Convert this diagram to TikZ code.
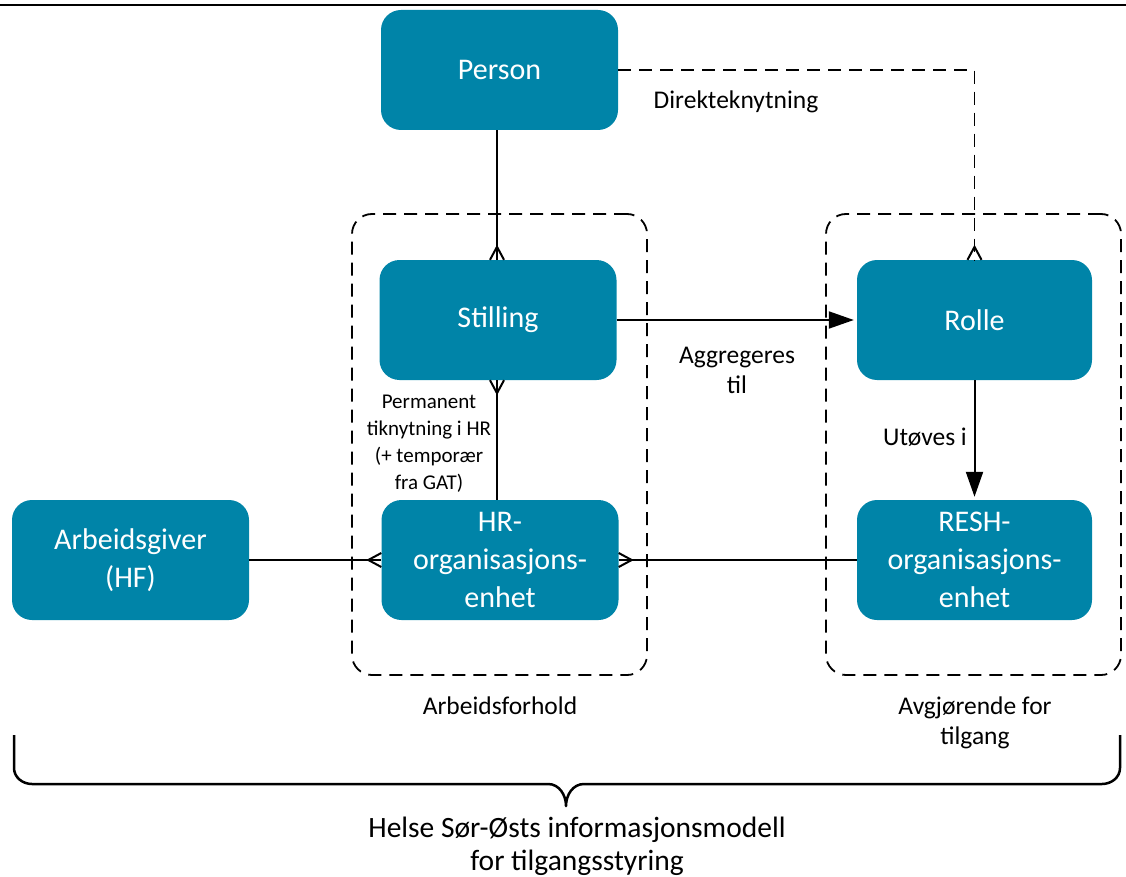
\documentclass[tikz,border=0pt]{standalone}
\usepackage{fontspec}
\setmainfont{Carlito}
\usetikzlibrary{arrows.meta}
\definecolor{teal1}{RGB}{0,132,168}
\begin{document}
\begin{tikzpicture}[x=1pt,y=-1pt,
  box/.style={fill=teal1,rounded corners=20pt,minimum width=237pt,minimum height=120pt,inner sep=0pt,text=white,align=center,font=\fontsize{30}{38}\selectfont},
  grp/.style={draw,dash pattern=on 13pt off 8pt,line width=1.8pt,rounded corners=20pt,minimum width=295pt,minimum height=461pt,inner sep=0pt},
  conn/.style={line width=2pt},
  dconn/.style={line width=1.8pt,dash pattern=on 13pt off 8pt},
  lbl/.style={font=\fontsize{25.5}{30}\selectfont,align=center,inner sep=0pt},
  slbl/.style={font=\fontsize{21}{27}\selectfont,align=center,inner sep=0pt},
  tri/.style={-{Triangle[length=25pt,width=17pt]}}
]
\useasboundingbox (0,0) rectangle (1126,877);
% header rule
\draw[line width=2pt] (0,5) -- (1126,5);

% groups
\node[grp] (grpA) at (499.5,444.5) {};
\node[grp] (grpB) at (973.5,444.5) {};

% boxes
\node[box] (person) at (499.5,70) {Person};
\node[box] (stilling) at (498,320) {Stilling};
\node[box] (hr) at (500,560) {HR-\\organisasjons-\\enhet};
\node[box] (arb) at (130.5,560) {Arbeidsgiver\\(HF)};
\node[box,minimum width=235pt] (rolle) at (974.5,320) {Rolle};
\node[box,minimum width=235pt] (resh) at (974.5,560) {RESH-\\organisasjons-\\enhet};

% Person - Stilling (crow's foot at Stilling)
\draw[conn] (person.south -| 497,0) coordinate (p1) -- (stilling.north -| 497,0) coordinate (s1);
\draw[conn] ([xshift=-7pt]s1) -- ([yshift=13pt]s1) -- ([xshift=7pt]s1);

% Stilling - HR (crow's foot at Stilling)
\draw[conn] (stilling.south -| 497,0) coordinate (s2) -- (hr.north -| 497,0) coordinate (h1);
\draw[conn] ([xshift=-7pt]s2) -- ([yshift=-13pt]s2) -- ([xshift=7pt]s2);
\node[slbl] (perm) at (429,444) {Permanent\\tiknytning i HR\\(+ temporær\\fra GAT)};

% Arbeidsgiver - HR (crow's foot at HR)
\draw[conn] (arb.east) -- (hr.west);
\draw[conn] ([yshift=-7pt]hr.west) -- ([xshift=-13pt]hr.west) -- ([yshift=7pt]hr.west);

% RESH - HR (crow's foot at HR)
\draw[conn] (resh.west) -- (hr.east);
\draw[conn] ([yshift=-7pt]hr.east) -- ([xshift=13pt]hr.east) -- ([yshift=7pt]hr.east);

% Stilling -> Rolle
\draw[conn,tri] (stilling.east) -- ([xshift=-3pt]rolle.west);
\node[lbl] (agg) at (737,370) {Aggregeres\\til};

% Rolle -> RESH
\draw[conn,tri] (rolle.south) -- ([yshift=3pt]resh.north);
\node[lbl,anchor=east] (utov) at (967,437) {Utøves i};

% Person - Rolle dashed (crow's foot at Rolle)
\coordinate (pc) at (rolle.north |- person.east);
\draw[dconn] (person.east) -- (pc) -- (rolle.north);
\draw[conn] ([xshift=-7pt]rolle.north) -- ([yshift=13pt]rolle.north) -- ([xshift=7pt]rolle.north);
\node[lbl] (dir) at (736,102) {Direkteknytning};

% group labels
\node[lbl] (arbf) at (500,706) {Arbeidsforhold};
\node[lbl] (avg) at (975,723) {Avgjørende for\\tilgang};

% brace
\draw[line width=2.5pt,line join=round]
  (14,735) -- (14,768) to[out=-90,in=180] (32,784) -- (548,784)
  to[out=0,in=90] (566,806) to[out=90,in=180] (584,784)
  -- (1102,784) to[out=0,in=-90] (1120,768) -- (1120,735);
\node[font=\fontsize{29.5}{33}\selectfont,align=center,inner sep=0pt] (title) at (577,846) {Helse Sør-Østs informasjonsmodell\\for tilgangsstyring};
\end{tikzpicture}
\end{document}
